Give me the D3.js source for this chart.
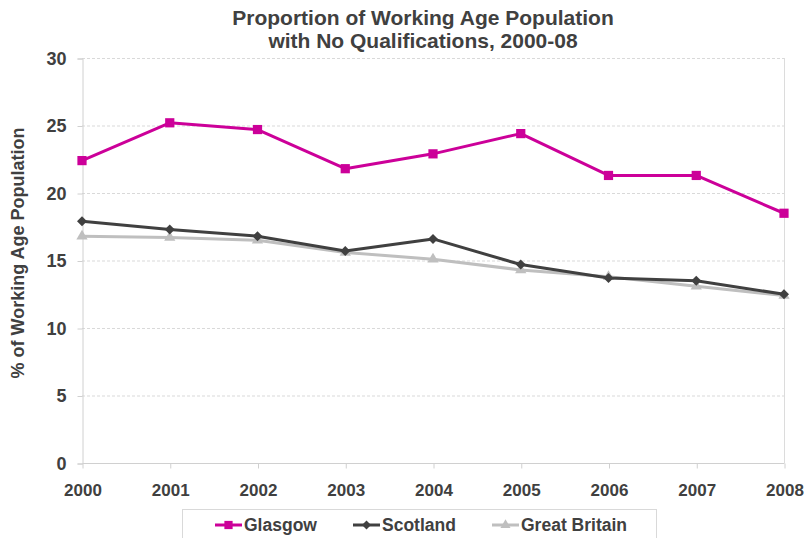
<!DOCTYPE html>
<html>
<head>
<meta charset="utf-8">
<script src="https://cdn.jsdelivr.net/npm/d3@7"></script>
<style>
  body { margin: 0; background: #fff; }
  svg { display: block; font-family: "Liberation Sans", Arial, sans-serif; }
</style>
</head>
<body>
<svg id="chart" width="805" height="538"></svg>
<script>
// Share of working-age population with no qualifications (%)
const years = ["2000", "2001", "2002", "2003", "2004", "2005", "2006", "2007", "2008"];
const glasgow = [22.4, 25.2, 24.7, 21.8, 22.9, 24.4, 21.3, 21.3, 18.5];
const scotland = [17.9, 17.3, 16.8, 15.7, 16.6, 14.7, 13.7, 13.5, 12.5];
const greatBritain = [16.8, 16.7, 16.5, 15.6, 15.1, 14.3, 13.8, 13.1, 12.4];
const yTicks = [0, 5, 10, 15, 20, 25, 30];

// Markers: square, diamond (square turned 45°), triangle
const series = [
  { name: "Glasgow", values: glasgow, color: "#CC0099", symbol: d3.symbolSquare, size: 85, rotate: 0 },
  { name: "Scotland", values: scotland, color: "#404040", symbol: d3.symbolSquare, size: 50, rotate: 45 },
  { name: "Great Britain", values: greatBritain, color: "#BFBFBF", symbol: d3.symbolTriangle, size: 55, rotate: 0 }
];

const svg = d3.select("#chart");
const plot = { left: 82, right: 784, top: 58, bottom: 463 };
const textColor = "#404040";

const x = d3.scalePoint().domain(years).range([plot.left, plot.right]);
const y = d3.scaleLinear().domain([0, 30]).range([plot.bottom, plot.top]);

// Title
svg.append("text")
  .attr("text-anchor", "middle")
  .attr("font-size", 21).attr("font-weight", "bold").attr("fill", textColor)
  .selectAll("tspan")
  .data(["Proportion of Working Age Population", "with No Qualifications, 2000-08"])
  .join("tspan")
  .attr("x", 423)
  .attr("y", (d, i) => i === 0 ? 25 : 48)
  .text(d => d);

// Horizontal gridlines
svg.append("g")
  .selectAll("line")
  .data(yTicks.filter(t => t > 0))
  .join("line")
  .attr("x1", plot.left).attr("x2", plot.right)
  .attr("y1", d => y(d) + 0.5).attr("y2", d => y(d) + 0.5)
  .attr("stroke", "#d9d9d9").attr("stroke-width", 1)
  .attr("stroke-dasharray", "3,2");

// Right border of plot area
svg.append("line")
  .attr("x1", plot.right + 0.5).attr("x2", plot.right + 0.5)
  .attr("y1", plot.top).attr("y2", plot.bottom)
  .attr("stroke", "#dcdcdc");

// Y axis
const yAxis = svg.append("g")
  .attr("transform", `translate(${plot.left + 0.5},0.5)`)
  .call(d3.axisLeft(y).tickValues(yTicks).tickSize(5).tickPadding(11));
yAxis.select(".domain").attr("stroke", "#d0d0d0");
yAxis.selectAll(".tick line").attr("stroke", "#d0d0d0");
yAxis.selectAll(".tick text")
  .attr("font-size", 18).attr("font-weight", "bold").attr("fill", textColor)
  .attr("font-family", "Liberation Sans, Arial, sans-serif");

// X axis
const xAxis = svg.append("g")
  .attr("transform", `translate(0.5,${plot.bottom + 0.5})`)
  .call(d3.axisBottom(x).tickSize(5).tickPadding(15));
xAxis.select(".domain").attr("stroke", "#d0d0d0").attr("d", `M${plot.left},0H${plot.right}`);
xAxis.selectAll(".tick line").attr("stroke", "#d0d0d0");
xAxis.selectAll(".tick text")
  .attr("font-size", 17).attr("font-weight", "bold").attr("fill", textColor)
  .attr("font-family", "Liberation Sans, Arial, sans-serif");

// Y axis title
svg.append("text")
  .attr("transform", "translate(24,253) rotate(-90)")
  .attr("text-anchor", "middle")
  .attr("font-size", 18).attr("font-weight", "bold").attr("fill", textColor)
  .text("% of Working Age Population");

// Lines and markers (drawn back to front)
const line = d3.line().x((d, i) => x(years[i])).y(d => y(d));
[...series].reverse().forEach(s => {
  const g = svg.append("g");
  g.append("path")
    .attr("d", line(s.values))
    .attr("fill", "none").attr("stroke", s.color).attr("stroke-width", 3)
    .attr("stroke-linejoin", "round");
  g.selectAll("path.m")
    .data(s.values)
    .join("path").attr("class", "m")
    .attr("transform", (d, i) => `translate(${x(years[i])},${y(d)}) rotate(${s.rotate})`)
    .attr("d", d3.symbol().type(s.symbol).size(s.size))
    .attr("fill", s.color);
});

// Legend
const legend = svg.append("g");
legend.append("rect")
  .attr("x", 182.5).attr("y", 509.5).attr("width", 474).attr("height", 40)
  .attr("fill", "#fff").attr("stroke", "#d9d9d9");
const legendX = [215, 353, 492];
series.forEach((s, i) => {
  const lg = legend.append("g").attr("transform", `translate(${legendX[i]},525)`);
  lg.append("line").attr("x1", 0).attr("x2", 27).attr("stroke", s.color).attr("stroke-width", 3);
  lg.append("path").attr("transform", `translate(13.5,0) rotate(${s.rotate})`)
    .attr("d", d3.symbol().type(s.symbol).size(s.size * 0.8)).attr("fill", s.color);
  lg.append("text").attr("x", 29).attr("y", 6)
    .attr("font-size", 17.5).attr("font-weight", "bold").attr("fill", textColor)
    .text(s.name);
});
</script>
</body>
</html>
